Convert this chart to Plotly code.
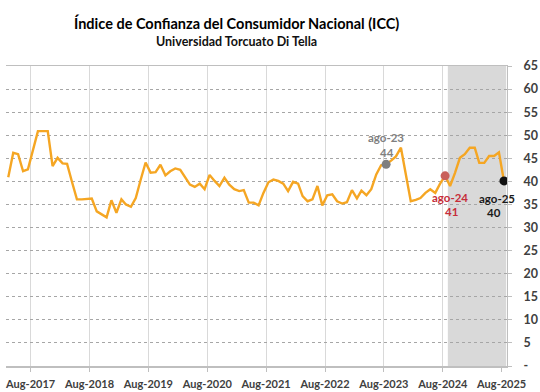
import pandas as pd
import plotly.graph_objects as go

# ---------------- data ----------------
start_month = "2017-03"
icc_values = [
    # 2017 (Mar-Dec)
    40.9, 46.2, 45.9, 42.2, 42.6, 47.0, 50.9, 50.9, 50.9, 43.3,
    # 2018
    45.1, 43.9, 43.8, 39.8, 36.1, 36.1, 36.2, 36.3, 33.5, 32.8, 32.2, 35.9,
    # 2019
    33.2, 36.1, 35.0, 34.5, 36.4, 40.4, 44.1, 41.9, 42.0, 43.6, 41.3, 42.2,
    # 2020
    42.8, 42.5, 40.9, 39.3, 38.8, 39.5, 38.3, 41.4, 40.1, 39.0, 40.8, 39.3,
    # 2021
    38.3, 37.9, 38.1, 35.4, 35.4, 34.8, 37.5, 39.8, 40.4, 40.1, 39.5, 37.9,
    # 2022
    39.9, 39.5, 36.8, 35.7, 36.1, 39.0, 34.8, 37.0, 37.2, 35.7, 35.2, 35.5,
    # 2023
    38.1, 36.3, 38.0, 37.0, 38.3, 41.5, 43.5, 43.7, 44.5, 45.4, 47.3, 41.5,
    # 2024
    35.7, 36.0, 36.4, 37.5, 38.3, 37.5, 39.5, 41.2, 39.0, 41.8, 45.1, 45.9,
    # 2025 (Jan-Aug)
    47.3, 47.3, 44.0, 44.0, 45.5, 45.5, 46.3, 40.1,
]

tick_dates = ["2017-08-01", "2018-08-01", "2019-08-01", "2020-08-01", "2021-08-01",
              "2022-08-01", "2023-08-01", "2024-08-01", "2025-08-01"]
tick_labels = ["Aug-2017", "Aug-2018", "Aug-2019", "Aug-2020", "Aug-2021",
               "Aug-2022", "Aug-2023", "Aug-2024", "Aug-2025"]

y_ticks = list(range(0, 66, 5))
y_tick_labels = ["-"] + [str(v) for v in y_ticks[1:]]

highlight_months = ["2023-08", "2024-08", "2025-08"]
highlight_labels = ["ago-23", "ago-24", "ago-25"]
highlight_colors = ["#7f7f7f", "#c9605a", "#111111"]
highlight_text_colors = ["#7f7f7f", "#c62d3a", "#1a1a1a"]

shade_start = "2024-09-01"
shade_end = "2025-08-29"

title_text = "Índice de Confianza del Consumidor Nacional (ICC)"
subtitle_text = "Universidad Torcuato Di Tella"

# ---------------- build ----------------
months = pd.period_range(start_month, periods=len(icc_values), freq="M")
dates = months.to_timestamp() + pd.Timedelta(days=14)
series = pd.Series(icc_values, index=months)

FONT = "Lato"

fig = go.Figure()

fig.add_trace(go.Scatter(
    x=dates, y=icc_values, mode="lines",
    line=dict(color="#F5A623", width=2.4),
    hoverinfo="skip", showlegend=False,
))

hl_x = [pd.Period(m, freq="M").to_timestamp() + pd.Timedelta(days=14) for m in highlight_months]
hl_y = [series[pd.Period(m, freq="M")] for m in highlight_months]

fig.add_trace(go.Scatter(
    x=hl_x, y=hl_y, mode="markers",
    marker=dict(size=9, color=highlight_colors),
    hoverinfo="skip", showlegend=False,
))

# label offsets (pixels): (label xshift, label yshift, value xshift, value yshift)
offsets = [(0, 27, 1, 12), (5, -22, 6, -36), (-7, -18, -10, -32)]
for x, y, lab, col, (lx, ly, vx, vy) in zip(hl_x, hl_y, highlight_labels, highlight_text_colors, offsets):
    fig.add_annotation(x=x, y=y, text=lab, showarrow=False, xshift=lx, yshift=ly,
                       font=dict(family=FONT, size=11.5, color=col, weight="bold"))
    fig.add_annotation(x=x, y=y, text=str(int(round(y))), showarrow=False, xshift=vx, yshift=vy,
                       font=dict(family=FONT, size=11.5, color=col, weight="bold"))

fig.add_shape(type="rect", xref="x", yref="paper", x0=shade_start, x1=shade_end, y0=0, y1=1,
              fillcolor="#d9d9d9", line=dict(width=0), layer="between")

fig.add_annotation(xref="paper", yref="paper", x=0.46, y=1.143, text=title_text, showarrow=False,
                   xanchor="center", yanchor="middle",
                   font=dict(family=FONT, size=14.5, color="#000000", weight="bold"))
fig.add_annotation(xref="paper", yref="paper", x=0.46, y=1.08, text=subtitle_text, showarrow=False,
                   xanchor="center", yanchor="middle",
                   font=dict(family=FONT, size=12.5, color="#111111", weight="bold"))

fig.update_layout(
    width=540, height=392,
    margin=dict(l=6, r=33, t=66, b=26, autoexpand=False),
    paper_bgcolor="white", plot_bgcolor="white",
    showlegend=False,
)

fig.update_xaxes(
    type="date", range=["2017-03-01", "2025-09-03"],
    tickvals=tick_dates, ticktext=tick_labels,
    showgrid=True, gridcolor="#d9d9d9", gridwidth=1,
    showline=True, linecolor="#bfbfbf", linewidth=1.5, mirror=True,
    ticks="outside", ticklen=4, tickcolor="#bfbfbf",
    tickfont=dict(family=FONT, size=11, color="#404040", weight="bold"),
    ticklabelstandoff=3, zeroline=False, automargin=False,
)
fig.update_yaxes(
    side="right", range=[0, 65],
    tickvals=y_ticks, ticktext=y_tick_labels,
    showgrid=True, gridcolor="#a6a6a6", gridwidth=1, griddash="dot",
    showline=True, linecolor="#bfbfbf", linewidth=1,
    ticks="outside", ticklen=4, tickcolor="#bfbfbf",
    tickfont=dict(family=FONT, size=12.5, color="#404040", weight="bold"),
    ticklabelstandoff=9, zeroline=False, automargin=False,
)

fig.write_html("out.html",
               config={"displayModeBar": False, "staticPlot": True},
               post_script="document.body.style.margin='0';document.body.style.overflow='hidden';")
